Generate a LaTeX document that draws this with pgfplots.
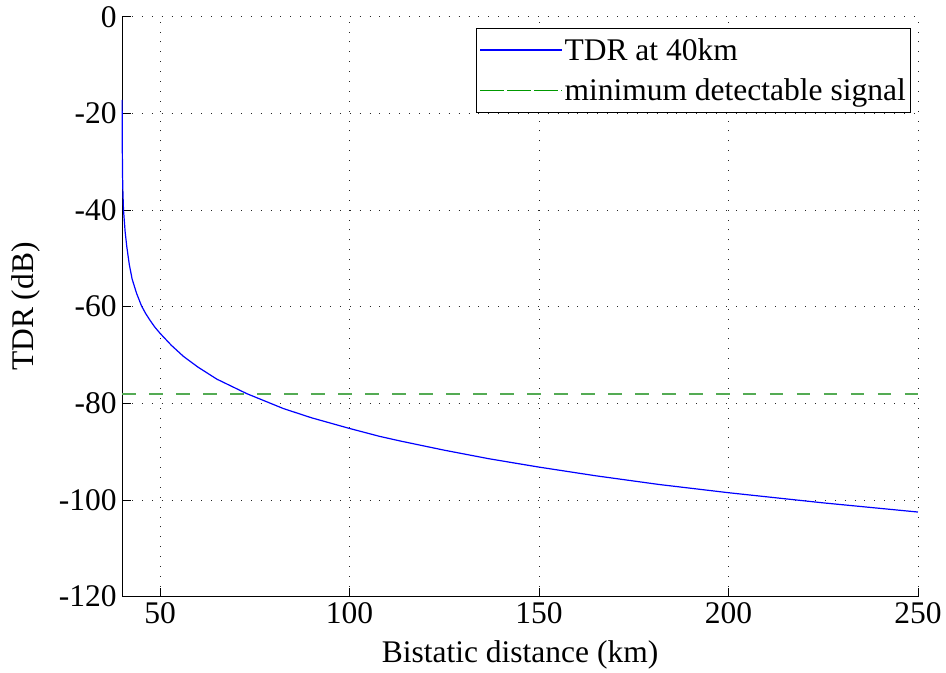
\documentclass[border=0pt]{standalone}
\usepackage{fontspec}
\setmainfont{Liberation Serif}
\newfontfamily\tnr{Liberation Serif}
\usepackage{pgfplots}
\pgfplotsset{compat=1.18}
\definecolor{mblue}{rgb}{0,0,1}
\definecolor{mgreen}{rgb}{0,0.6,0}
\definecolor{pgreen}{rgb}{0.33,0.67,0.33}
\newcommand{\bigf}{\tnr\fontsize{31.5}{36}\selectfont}
\begin{document}
\begin{tikzpicture}
\begin{axis}[
  scale only axis,
  width=796pt, height=580pt,
  xmin=40, xmax=250, ymin=-120, ymax=0,
  axis x line*=bottom, axis y line*=left,
  axis line style={black, line width=1pt},
  xtick={50,100,150,200,250},
  xticklabels={50,100,150,200,250},
  ytick={-120,-100,-80,-60,-40,-20,0},
  yticklabels={-120,-100,-80,-60,-40,-20,0},
  tick align=inside,
  major tick length=9pt,
  tick style={black, line width=0.8pt},
  grid=major,
  major grid style={black!85, line width=0.9pt, dash pattern=on 0.9pt off 9pt},
  every tick label/.append style={font=\bigf},
  xticklabel style={yshift=-2pt},
  yticklabel style={xshift=-2pt},
  xlabel={Bistatic distance (km)},
  ylabel={TDR (dB)},
  label style={font=\bigf},
  xlabel style={yshift=-10pt},
  ylabel style={yshift=12pt},
  clip=false,
  legend style={at={(axis cs:248.2,-2.34)}, anchor=north east, font=\bigf,
    draw=black, line width=0.8pt, inner xsep=3pt, inner ysep=8pt, row sep=13pt,
    legend cell align=left},
  legend image code/.code={\path (0pt,0pt) -- (82pt,0pt);
    \draw[#1] (11pt,0pt) -- (78pt,0pt);},
]
\addplot[color=mblue, line width=1.2pt] coordinates {
(40,-17.2) (40.05,-27) (40.12,-33) (40.22,-36.5) (40.37,-40)
(40.8,-44.5) (41.24,-47.6) (41.9,-51.3) (42.65,-54.3) (43.8,-57.2)
(45.1,-59.8) (46.2,-61.4) (47.35,-62.8) (48.6,-64.2) (50,-65.5)
(53,-68.0) (56.2,-70.3) (60,-72.5) (65,-75.0) (72.9,-78.0)
(82.6,-81.1) (90,-83.0) (100,-85.2) (108,-86.85) (113.4,-87.8)
(125,-89.7) (137,-91.5) (150,-93.2) (165,-95.0) (181.7,-96.8)
(200,-98.5) (225,-100.6) (250,-102.5)
};
\addlegendentry{TDR at 40km}
\addplot[color=pgreen, line width=1.8pt, dash pattern=on 13.5pt off 13.5pt, forget plot] coordinates {(40,-78) (250,-78)};
\addlegendimage{color=mgreen, line width=1pt, dash pattern=on 13pt off 14pt}
\addlegendentry{minimum detectable signal}
\path (axis cs:7.78,3.46) rectangle (axis cs:257.4,-134.76);
\end{axis}
\end{tikzpicture}
\end{document}
